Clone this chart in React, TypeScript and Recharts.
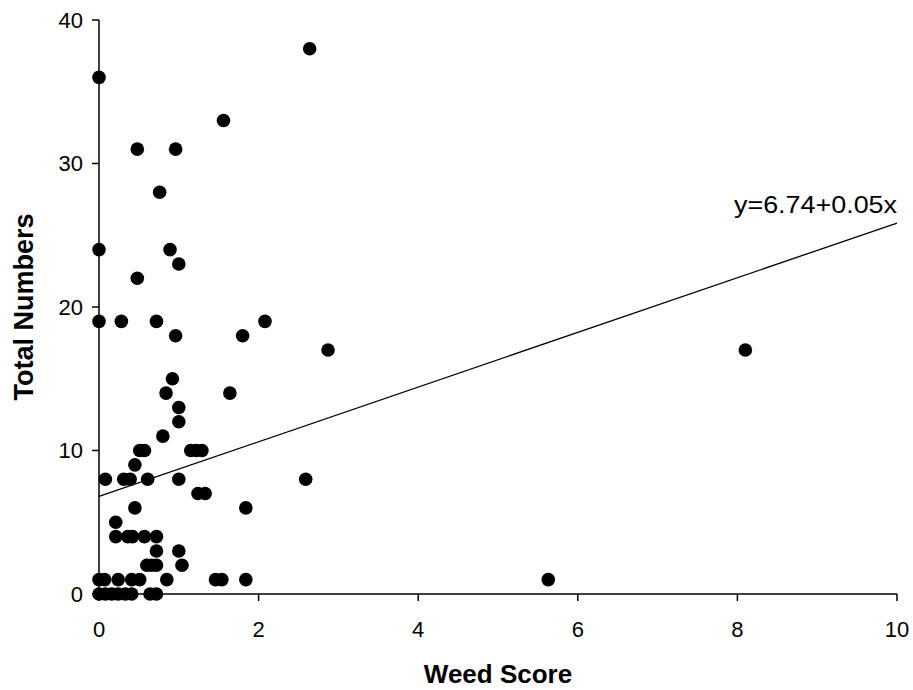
import React from 'react'
import { ScatterChart, Scatter, XAxis, YAxis, ReferenceLine } from 'recharts'

// weed score vs total numbers
const weedScore = [
  2.64, 0, 1.56, 0.48, 0.96, 0.76, 0, 0.89, 1.0, 0.48,
  0, 0.28, 0.72, 2.08, 0.96, 1.8, 2.87, 8.1, 0.92, 0.84,
  1.64, 1.0, 1.0, 0.8, 0.51, 0.57, 1.15, 1.22, 1.29, 0.45,
  0.08, 0.31, 0.39, 0.61, 1.0, 2.59, 1.24, 1.33, 0.45, 1.84,
  0.21, 0.21, 0.36, 0.42, 0.57, 0.72, 0.72, 1.0, 0.6, 0.66,
  0.72, 1.04, 0, 0.07, 0.24, 0.41, 0.51, 0.85, 1.46, 1.54,
  1.84, 5.63, 0, 0.08, 0.16, 0.24, 0.33, 0.41, 0.64, 0.72,
]
const totalNumbers = [
  38, 36, 33, 31, 31, 28, 24, 24, 23, 22,
  19, 19, 19, 19, 18, 18, 17, 17, 15, 14,
  14, 13, 12, 11, 10, 10, 10, 10, 10, 9,
  8, 8, 8, 8, 8, 8, 7, 7, 6, 6,
  5, 4, 4, 4, 4, 4, 3, 3, 2, 2,
  2, 2, 1, 1, 1, 1, 1, 1, 1, 1,
  1, 1, 0, 0, 0, 0, 0, 0, 0, 0,
]

// fitted line as drawn (ends) and its printed equation
const fitStart = { x: 0, y: 6.8 }
const fitEnd = { x: 10, y: 25.85 }
const fitLabel = 'y=6.74+0.05x'
const fitLabelPos = [{ x: 10, y: 26.55 }]

const xTicks = [0, 2, 4, 6, 8, 10]
const yTicks = [0, 10, 20, 30, 40]

const points = weedScore.map((x, i) => ({ x, y: totalNumbers[i] }))

const FONT = 'Arial, "Liberation Sans", Helvetica, sans-serif'
const tickStyle = { fill: '#000', fontSize: 22, fontFamily: FONT }

const Dot = (props: any) => <circle cx={props.cx} cy={props.cy} r={6.8} fill="#000" />

const EquationText = (props: any) => (
  <text
    x={props.cx}
    y={props.cy}
    textAnchor="end"
    fontSize={24}
    fontFamily={FONT}
    fill="#000"
    textLength={163}
    lengthAdjust="spacingAndGlyphs"
  >
    {fitLabel}
  </text>
)

export default function App() {
  return (
    <div style={{ position: 'absolute', left: 0, top: 0, background: '#fff' }}>
      <ScatterChart width={913} height={690} margin={{ top: 20, right: 16, bottom: 0, left: 0 }}>
        <XAxis
          type="number"
          dataKey="x"
          domain={[0, 10]}
          ticks={xTicks}
          height={96}
          tickSize={7}
          tickMargin={20}
          tick={tickStyle}
          axisLine={{ stroke: '#000', strokeWidth: 1.5 }}
          tickLine={{ stroke: '#000', strokeWidth: 1.5 }}
          label={{
            content: (p: any) => (
              <text
                x={p.viewBox.x + p.viewBox.width / 2}
                y={683}
                textAnchor="middle"
                fontSize={26}
                fontWeight="bold"
                fontFamily={FONT}
                fill="#000"
              >
                Weed Score
              </text>
            ),
          }}
        />
        <YAxis
          type="number"
          dataKey="y"
          domain={[0, 40]}
          ticks={yTicks}
          width={99}
          tickSize={7}
          tickMargin={9}
          tick={tickStyle}
          axisLine={{ stroke: '#000', strokeWidth: 1.5 }}
          tickLine={{ stroke: '#000', strokeWidth: 1.5 }}
          label={{
            content: (p: any) => {
              const cy = p.viewBox.y + p.viewBox.height / 2
              return (
                <text
                  x={33}
                  y={cy}
                  transform={`rotate(-90, 33, ${cy})`}
                  textAnchor="middle"
                  fontSize={27}
                  fontWeight="bold"
                  fontFamily={FONT}
                  fill="#000"
                >
                  Total Numbers
                </text>
              )
            },
          }}
        />
        <ReferenceLine
          segment={[fitStart, fitEnd]}
          stroke="#000"
          strokeWidth={1.3}
          ifOverflow="visible"
        />
        <Scatter data={points} shape={Dot} isAnimationActive={false} />
        <Scatter data={fitLabelPos} shape={EquationText} isAnimationActive={false} />
      </ScatterChart>
    </div>
  )
}
